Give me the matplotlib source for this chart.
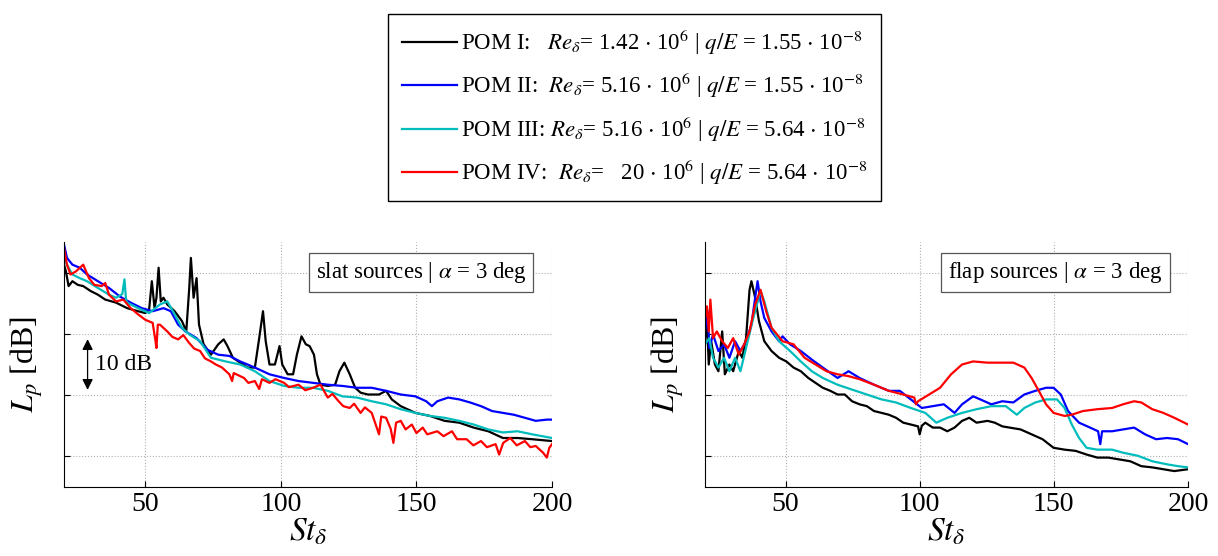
import matplotlib
matplotlib.use('Agg')
import matplotlib.pyplot as plt

plt.rcParams['font.family'] = ['Liberation Serif', 'DejaVu Serif']
plt.rcParams['mathtext.fontset'] = 'stix'

# slat sources (St_delta, Lp in dB)
slat_st_1 = [20.0,20.7,21.7,23.1,25.1,27.1,29.8,32.5,35.2,39.2,43.3,47.3,50.0,51.4,52.4,53.4,54.1,54.9,55.7,56.7,58.1,60.8,63.5,65.1,66.2,66.8,67.8,68.9,69.8,71.5,74.2,76.9,78.9,80.3,82.3,85.0,87.7,90.4,92.0,93.4,94.4,95.8,97.8,99.5,100.5,102.5,104.5,105.9,107.6,109.2,110.6,112.2,113.3,114.6,117.3,120.0,121.6,123.4,125.4,127.4,129.4,132.1,136.2,138.8,140.9,144.2,149.6,155.0,160.4,165.8,171.1,176.5,181.9,187.3,192.7,200.0]
slat_lp_1 = [31.3,30.2,27.8,28.6,28.0,27.8,27.0,26.4,25.6,25.1,24.2,23.7,23.4,24.0,28.6,24.2,25.9,30.8,25.3,25.9,24.8,23.7,22.1,20.4,27.5,32.4,25.9,29.1,21.5,18.3,16.6,18.3,19.1,18.0,16.1,15.3,14.5,14.5,19.3,23.7,18.8,15.0,15.0,18.0,15.0,13.4,13.4,16.6,19.6,18.3,18.0,16.6,13.4,11.7,11.5,11.7,13.9,15.3,13.4,11.2,10.4,10.1,10.1,10.7,9.3,8.2,7.1,6.6,5.8,5.5,4.7,4.1,3.0,3.0,2.8,2.5]

slat_st_2 = [20.0,21.1,23.1,25.8,28.5,32.5,36.6,40.6,44.6,48.7,52.7,56.7,59.4,62.1,64.8,68.9,72.9,76.9,81.0,85.0,90.4,95.8,101.2,106.5,111.9,117.3,122.7,128.1,133.5,138.8,144.2,149.6,153.6,155.7,157.7,161.7,165.8,169.8,173.8,177.9,181.9,185.9,190.0,194.0,198.1,200.0]
slat_lp_2 = [34.6,32.4,31.3,30.8,29.7,28.6,27.5,26.1,25.1,24.2,23.7,24.2,23.7,21.5,20.4,19.3,17.4,16.6,16.4,15.5,14.5,13.4,12.8,12.3,12.0,11.7,11.5,11.2,11.2,10.7,10.1,9.8,9.0,8.2,9.0,9.6,9.3,8.8,8.2,7.4,7.1,6.8,6.3,5.8,6.0,6.0]

slat_st_3 = [20.0,21.1,23.1,25.8,28.5,32.5,36.6,39.2,41.5,42.3,42.9,43.3,47.3,51.4,55.4,58.1,60.8,63.5,66.2,70.2,74.2,79.6,85.0,90.4,95.8,101.2,106.5,111.9,117.3,122.7,128.1,133.5,138.8,144.2,149.6,155.0,160.4,165.8,171.1,176.5,181.9,187.3,192.7,200.0]
slat_lp_3 = [32.4,31.3,29.7,29.1,28.6,27.5,26.4,25.9,26.5,28.9,25.5,25.1,24.2,23.4,24.8,25.3,23.2,21.0,19.9,18.8,16.1,15.5,15.0,13.9,12.3,11.5,11.2,11.2,10.7,9.8,9.6,9.0,8.5,7.7,7.1,6.6,6.3,5.8,5.2,4.4,3.9,4.1,3.6,3.0]

slat_st_4 = [20.0,21.1,22.4,24.4,27.1,29.2,31.2,33.9,35.2,36.6,39.2,41.9,44.6,47.3,50.0,52.7,53.7,54.1,54.6,55.4,58.1,60.0,62.1,64.0,66.2,68.0,70.2,72.0,74.2,76.0,78.3,81.0,82.0,82.6,86.4,88.0,90.4,92.0,93.0,95.8,98.0,101.2,103.0,106.5,109.0,111.9,114.6,117.3,119.0,121.3,123.0,125.4,127.0,129.4,131.0,133.5,136.2,137.0,138.8,140.5,141.5,142.5,144.2,146.0,148.3,150.0,152.3,154.0,157.7,160.0,163.1,165.0,168.5,171.0,173.8,176.0,179.2,180.5,182.0,184.6,187.0,190.0,192.0,194.0,196.7,198.1,199.0,200.0]
slat_lp_4 = [34.0,31.3,29.7,30.2,31.3,29.1,28.0,27.8,28.3,26.4,25.3,25.6,24.2,23.2,22.3,21.8,19.0,17.7,21.5,21.5,20.4,19.5,19.1,19.8,18.5,17.6,17.2,16.0,15.5,15.0,14.5,13.4,12.3,13.6,12.8,12.0,12.3,11.0,12.6,12.0,12.6,12.0,11.3,11.7,10.8,11.2,11.7,9.6,10.2,9.0,8.2,7.9,8.6,7.1,8.0,7.1,3.6,6.5,6.3,4.5,2.2,5.5,5.8,4.4,5.2,3.8,4.7,3.6,4.1,3.3,4.1,2.8,2.8,1.8,2.5,1.5,2.0,0.3,2.2,3.0,1.8,2.5,1.5,1.7,0.6,-0.2,1.4,2.0]

# flap sources
flap_st_1 = [20.0,20.7,21.4,22.3,23.7,25.0,26.4,27.4,29.1,30.5,32.6,33.9,35.3,36.6,37.3,38.7,40.1,42.1,44.8,47.6,50.3,53.0,55.7,58.5,61.2,63.9,66.7,69.4,72.1,74.8,77.6,80.3,83.0,85.8,88.5,91.2,93.9,96.7,99.4,100.0,100.8,102.1,104.9,107.6,110.3,113.0,115.8,118.5,121.2,125.3,128.0,130.8,133.5,137.6,141.7,145.8,149.9,154.0,158.1,162.2,166.2,170.3,174.4,178.5,182.6,186.7,190.8,194.9,200.0]
flap_lp_1 = [18.8,22.6,15.0,18.8,15.0,13.9,20.4,13.4,15.0,13.9,17.2,16.1,19.3,27.2,28.6,25.9,22.1,18.8,17.2,16.1,15.5,14.5,13.9,12.8,12.0,11.2,10.7,10.1,10.1,9.0,8.5,8.2,7.4,7.1,6.8,6.3,5.5,5.2,4.9,3.6,5.0,5.5,4.7,4.7,4.1,4.7,5.8,6.3,5.5,5.8,5.5,4.9,4.7,4.4,3.6,2.8,1.4,1.1,0.9,0.3,-0.2,-0.2,-0.5,-0.8,-1.6,-1.8,-2.1,-2.4,-2.1]

flap_st_2 = [20.0,21.0,21.6,23.0,25.0,27.1,29.1,31.2,33.2,35.3,37.3,38.7,39.6,40.7,42.1,44.8,47.6,48.9,51.7,55.7,59.8,63.9,69.4,73.5,77.6,83.0,88.5,92.6,96.7,100.8,104.9,109.0,113.0,115.8,119.9,122.6,126.7,130.8,134.9,139.0,143.1,147.1,149.9,152.6,155.3,159.4,163.5,166.5,167.3,168.0,171.7,175.8,179.9,184.0,188.1,192.2,196.3,200.0]
flap_lp_2 = [20.4,23.7,17.7,19.9,17.2,18.3,16.1,18.8,17.2,18.8,21.5,25.9,28.6,25.3,22.6,20.4,18.8,19.6,18.3,17.2,15.8,14.5,12.8,13.9,12.8,11.7,10.7,10.7,9.3,7.9,8.2,8.5,7.1,8.5,9.8,9.3,8.5,9.0,8.8,10.1,10.7,11.2,11.2,10.1,7.4,5.5,4.7,4.1,2.0,4.1,4.1,4.4,4.7,3.6,2.8,3.0,2.8,2.0]

flap_st_3 = [20.0,21.6,23.0,25.0,27.1,29.1,31.2,33.2,35.3,38.0,40.7,42.1,44.8,47.6,51.7,55.7,59.8,63.9,69.4,74.8,80.3,85.8,91.2,96.7,102.1,106.2,110.3,115.8,121.2,126.7,132.1,136.2,139.0,143.1,147.1,151.2,154.0,156.7,159.4,162.2,166.2,171.7,175.8,181.3,186.7,192.2,196.3,200.0]
flap_lp_3 = [18.3,19.3,16.1,14.5,16.1,13.9,16.1,13.9,17.7,22.6,27.0,25.3,21.0,18.8,17.2,15.5,13.9,12.8,11.7,10.9,10.1,9.3,8.8,7.9,7.1,5.5,6.3,7.1,7.7,8.2,8.2,6.8,7.9,8.8,9.3,9.3,7.9,5.2,3.0,1.4,1.1,1.1,0.6,0.1,-0.8,-1.3,-1.6,-1.8]

flap_st_4 = [20.0,20.7,21.4,22.0,23.0,24.4,26.4,28.5,30.5,32.6,34.6,36.6,38.7,40.7,42.8,44.8,48.9,53.0,57.1,61.2,65.3,69.4,73.5,77.6,83.0,88.5,93.9,98.0,98.6,99.4,103.5,107.6,111.7,115.8,119.9,125.3,130.8,134.9,139.0,141.7,144.4,147.1,149.9,154.0,156.7,160.8,166.2,171.7,175.8,179.9,182.6,186.7,190.8,194.9,200.0]
flap_lp_4 = [22.6,24.5,20.4,25.6,19.3,20.4,18.8,17.7,19.3,16.6,18.3,20.4,24.8,27.2,23.7,21.0,18.8,18.3,16.1,15.0,13.9,13.4,13.1,12.6,11.7,10.7,10.1,9.6,8.5,9.0,10.1,11.2,13.4,15.0,15.5,15.3,15.3,15.3,14.5,12.8,10.7,8.5,7.1,6.6,6.8,7.4,7.7,7.9,8.5,9.0,8.8,7.7,7.1,6.3,5.2]

labels = [r'POM I:   $Re_{\delta}$= 1.42 $\cdot$ 10$^{6}$ | $q/E$ = 1.55 $\cdot$ 10$^{-8}$',
          r'POM II:  $Re_{\delta}$= 5.16 $\cdot$ 10$^{6}$ | $q/E$ = 1.55 $\cdot$ 10$^{-8}$',
          r'POM III: $Re_{\delta}$= 5.16 $\cdot$ 10$^{6}$ | $q/E$ = 5.64 $\cdot$ 10$^{-8}$',
          r'POM IV:  $Re_{\delta}$=   20 $\cdot$ 10$^{6}$ | $q/E$ = 5.64 $\cdot$ 10$^{-8}$']
colors = ['black', '#0000ff', '#00bcbc', '#ff0000']

fig = plt.figure(figsize=(12.18, 5.56), dpi=100)
ax1 = fig.add_axes([64/1218, 69/556, 488/1218, 245/556])
ax2 = fig.add_axes([705/1218, 69/556, 483/1218, 245/556])

slat = [(slat_st_1, slat_lp_1), (slat_st_2, slat_lp_2), (slat_st_3, slat_lp_3), (slat_st_4, slat_lp_4)]
flap = [(flap_st_1, flap_lp_1), (flap_st_2, flap_lp_2), (flap_st_3, flap_lp_3), (flap_st_4, flap_lp_4)]

lines = []
for i in range(4):
    l, = ax1.plot(slat[i][0], slat[i][1], color=colors[i], lw=1.6)
    ax2.plot(flap[i][0], flap[i][1], color=colors[i], lw=1.6)
    lines.append(l)

for ax, name in [(ax1, 'slat'), (ax2, 'flap')]:
    ax.set_xlim(20, 200)
    ax.set_ylim(-5, 35)
    ax.set_xticks([50, 100, 150, 200])
    ax.set_yticks([0, 10, 20, 30])
    ax.set_yticklabels([])
    ax.grid(True, color='#b0b0b0', linestyle=':', linewidth=0.8)
    ax.spines['top'].set_visible(False)
    ax.spines['right'].set_visible(False)
    ax.tick_params(direction='in', labelsize=20, length=4)
    ax.set_xlabel(r'$St_{\delta}$', fontsize=24, labelpad=0)
    ax.set_ylabel(r'$L_p$ [dB]', fontsize=23, labelpad=10)
    ax.text(0.948, 0.875, name + r' sources | $\alpha$ = 3 deg', transform=ax.transAxes,
            ha='right', va='center', fontsize=16.5,
            bbox=dict(boxstyle='square,pad=0.3', fc='white', ec='#555555', lw=0.9))

# 10 dB scale arrow
ax1.annotate('', xy=(28.7, 10.4), xytext=(28.7, 19.6),
             arrowprops=dict(arrowstyle='<|-|>', color='black', lw=0.9, mutation_scale=16))
ax1.text(31.3, 15.0, '10 dB', fontsize=17, va='center', ha='left')

leg = fig.legend(lines, labels, loc='center', bbox_to_anchor=(0.521, 0.807), fontsize=16.5,
                 handlelength=2.4, handletextpad=0.2, labelspacing=0.6, borderpad=0.6,
                 fancybox=False, edgecolor='black', framealpha=1)
leg.get_frame().set_linewidth(1.0)

fig.savefig('out.png', dpi=100)
